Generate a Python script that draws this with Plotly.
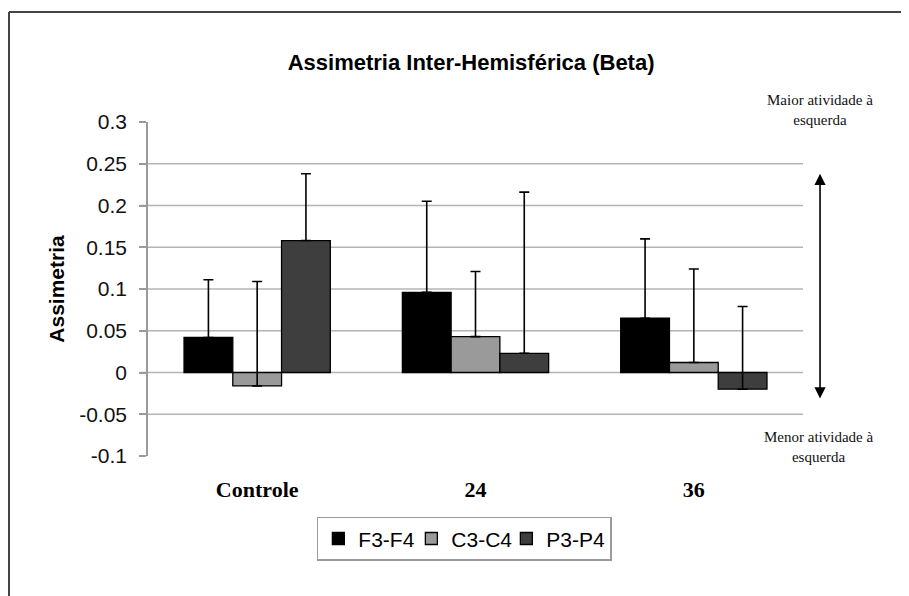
import plotly.graph_objects as go

categories = ["Controle", "24", "36"]
series_names = ["F3-F4", "C3-C4", "P3-P4"]
values = {
    "F3-F4": [0.042, 0.096, 0.065],
    "C3-C4": [-0.016, 0.043, 0.012],
    "P3-P4": [0.158, 0.023, -0.020],
}
errors = {
    "F3-F4": [0.069, 0.109, 0.095],
    "C3-C4": [0.125, 0.078, 0.112],
    "P3-P4": [0.080, 0.193, 0.099],
}
colors = {"F3-F4": "#000000", "C3-C4": "#9a9a9a", "P3-P4": "#3e3e3e"}
legend_widths = {"F3-F4": 48, "C3-C4": 50, "P3-P4": 0}
y_ticks = [-0.1, -0.05, 0, 0.05, 0.1, 0.15, 0.2, 0.25, 0.3]
y_tick_text = ["-0.1", "-0.05", "0", "0.05", "0.1", "0.15", "0.2", "0.25", "0.3"]
grid_levels = [-0.05, 0, 0.05, 0.1, 0.15, 0.2, 0.25]

fig = go.Figure()
for s in series_names:
    fig.add_trace(go.Bar(
        name=s, x=categories, y=values[s],
        marker=dict(color=colors[s], line=dict(color="#000000", width=1.3)),
        error_y=dict(type="data", symmetric=False, array=errors[s],
                     arrayminus=[0] * len(categories),
                     color="#000000", thickness=1.6, width=5),
        legendwidth=legend_widths[s],
    ))

shapes = []
for g in grid_levels:
    shapes.append(dict(type="line", xref="paper", yref="y", x0=-0.012, x1=1.0,
                       y0=g, y1=g, line=dict(color="#b4b4b4", width=1.6), layer="below"))
# outer frame
shapes.append(dict(type="line", xref="paper", yref="paper", x0=-0.2122, x1=1.3,
                   y0=1.329, y1=1.329, line=dict(color="#444444", width=2)))
shapes.append(dict(type="line", xref="paper", yref="paper", x0=-0.2122, x1=-0.2122,
                   y0=1.329, y1=-0.5, line=dict(color="#444444", width=2)))

annotations = [
    dict(xref="paper", yref="paper", x=1.026, y=1.096, xanchor="center", yanchor="top",
         text="Maior atividade à<br>esquerda",
         showarrow=False, font=dict(family="Liberation Serif", size=15, color="#111111"),
         align="center"),
    dict(xref="paper", yref="paper", x=1.023, y=0.088, xanchor="center", yanchor="top",
         text="Menor atividade à<br>esquerda",
         showarrow=False, font=dict(family="Liberation Serif", size=15, color="#111111"),
         align="center"),
    dict(xref="paper", yref="y", x=1.026, y=0.238, axref="pixel", ax=0,
         ayref="y", ay=-0.033, text="", showarrow=True, arrowside="end+start",
         arrowhead=2, arrowsize=1.4, arrowwidth=1.6, arrowcolor="#000000"),
]

fig.update_layout(
    width=901, height=588,
    margin=dict(l=140, r=106, t=114, b=140),
    paper_bgcolor="white", plot_bgcolor="white",
    barmode="group", bargap=0.33, bargroupgap=0,
    title=dict(text="Assimetria Inter-Hemisférica (Beta)", xref="container", x=0.514,
               xanchor="center", yref="container", y=0.908, yanchor="middle",
               font=dict(family="Liberation Sans", size=22, color="#000000", weight="bold")),
    xaxis=dict(showline=False, showgrid=False, zeroline=False, ticks="",
               tickfont=dict(family="Liberation Serif", size=22, color="#000000", weight="bold"),
               ticklabelstandoff=18),
    yaxis=dict(range=[-0.1, 0.3], tickvals=y_ticks, ticktext=y_tick_text,
               showgrid=False, zeroline=False, showline=True, linecolor="#9a9a9a",
               linewidth=1.5, ticks="outside", ticklen=7, tickcolor="#9a9a9a",
               tickwidth=1.5, ticklabelstandoff=8,
               tickfont=dict(family="Liberation Sans", size=21, color="#111111"),
               title=dict(text="Assimetria", standoff=9,
                          font=dict(family="Liberation Sans", size=21, color="#000000",
                                    weight="bold"))),
    legend=dict(orientation="h", x=0.483, xanchor="center", y=-0.248, yanchor="middle",
                bordercolor="#9a9a9a", borderwidth=1.5, bgcolor="white",
                font=dict(family="Liberation Sans", size=21, color="#000000"),
                itemwidth=30, tracegroupgap=0),
    shapes=shapes, annotations=annotations,
    showlegend=True,
)

fig.write_html("out.html")
